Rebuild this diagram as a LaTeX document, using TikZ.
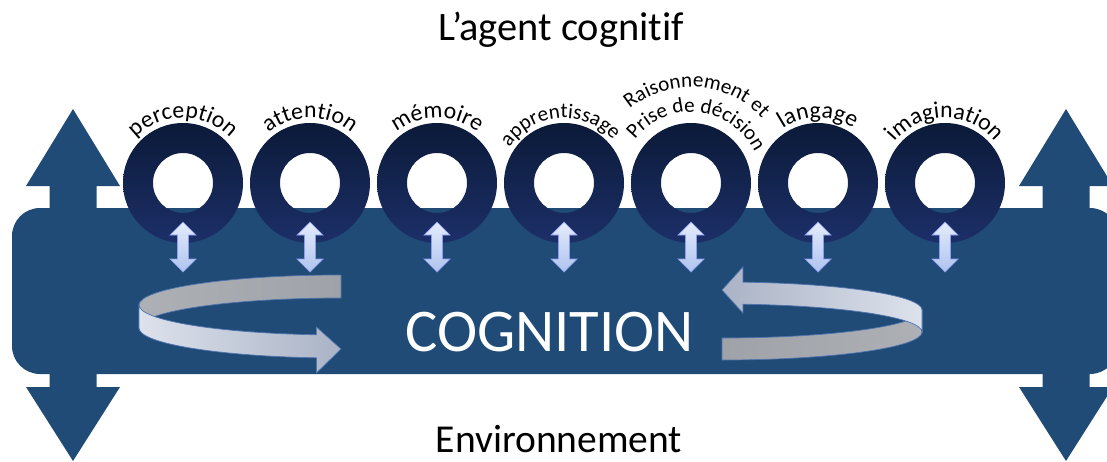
\documentclass[tikz,border=0pt]{standalone}
\usepackage{fontspec}
\setmainfont{Carlito}[Ligatures=NoCommon]
\usetikzlibrary{decorations.text}
\definecolor{bandblue}{HTML}{1F4B76}
\definecolor{ringtop}{HTML}{0B1A38}
\definecolor{ringbot}{HTML}{1C2F68}
\definecolor{arrlight}{HTML}{E4ECFC}
\definecolor{arrdark}{HTML}{AFC3EE}
\definecolor{ribbonlight}{HTML}{DDE2EC}
\definecolor{ribbonmid}{HTML}{AAB3C6}
\definecolor{ribbongray}{HTML}{9FA2A8}
\definecolor{ribbonedge}{HTML}{4F74B0}
\newcommand\lblfont{\fontsize{13.5}{15}\selectfont}
\newcommand\lblfontsm{\fontsize{12}{14}\selectfont}

\tikzset{
  ringlabel/.style={decorate, decoration={text along path, text align=center, text={|\lblfont|#1}}},
  ringlabelsm/.style={decorate, decoration={text along path, text align=center, text={|\lblfontsm|#1}}},
  smallarrow/.style={top color=arrlight, bottom color=arrdark, draw=arrdark!80!blue, line width=0.4pt},
  ribbon/.style={draw=ribbonedge, line width=0.4pt}
}

\begin{document}
\begin{tikzpicture}[x=0.02cm, y=0.02cm]
    \useasboundingbox (0,0) rectangle (1107,461);
    \clip (0,0) rectangle (1107,461);

    \fill[bandblue, rounded corners=0.56cm] (12,87) rectangle (1118,253);

    \fill[bandblue] (73,352) -- (120,275) -- (96.5,275) -- (96.5,74) -- (120,74) -- (73,0)
        -- (26,74) -- (49.5,74) -- (49.5,275) -- (26,275) -- cycle;
    \fill[bandblue] (1066,352) -- (1113,275) -- (1089.5,275) -- (1089.5,74) -- (1113,74) -- (1066,0)
        -- (1019,74) -- (1042.5,74) -- (1042.5,275) -- (1019,275) -- cycle;

    \foreach \i in {1,...,7} {
        \coordinate (ring\i) at ({56+127*\i},278);
        \shade[top color=ringtop, bottom color=ringbot, even odd rule]
            (ring\i) circle[radius=60] (ring\i) circle[radius=30];
        \shade[smallarrow, shift={(ring\i)}] (0,-39) -- (13,-52) -- (5.5,-52) -- (5.5,-76) -- (13,-76)
            -- (0,-89) -- (-13,-76) -- (-5.5,-76) -- (-5.5,-52) -- (-13,-52) -- cycle;
    }

    \foreach \i/\lab in {1/perception, 2/attention, 3/mémoire, 6/langage, 7/imagination}
        \path[ringlabel=\lab] (ring\i) ++(170:65) arc[start angle=170, end angle=10, radius=65];
    \path[ringlabelsm=apprentissage] (ring4) ++(174:65) arc[start angle=174, end angle=14, radius=65];
    \path[ringlabelsm={Raisonnement et}] (ring5) ++(166:96) arc[start angle=166, end angle=6, radius=96];
    \path[ringlabelsm={Prise de décision}] (ring5) ++(174:71) arc[start angle=174, end angle=-6, radius=71];

    % left loop
    \shade[ribbon, left color=ribbongray!85!white, right color=ribbongray]
        (341,186) arc[start angle=90, end angle=180, x radius=202, y radius=30]
        -- (139,133) arc[start angle=180, end angle=90, x radius=202, y radius=30] -- cycle;
    \shade[ribbon, left color=ribbonlight, right color=ribbonmid]
        (139,156) arc[start angle=180, end angle=263, x radius=202, y radius=30]
        -- (316.4,134) -- (341,112) -- (316.4,88) -- (316.4,103.2)
        arc[start angle=263, end angle=180, x radius=202, y radius=30] -- cycle;

    % right loop
    \shade[ribbon, left color=ribbongray, right color=ribbongray!85!white]
        (722,123) arc[start angle=-90, end angle=0, x radius=200, y radius=28]
        -- (922,129) arc[start angle=0, end angle=-90, x radius=200, y radius=28] -- cycle;
    \shade[ribbon, left color=ribbonmid, right color=ribbonlight]
        (922,151) arc[start angle=0, end angle=84, x radius=200, y radius=28]
        -- (742.9,194) -- (722,171) -- (742.9,148) -- (742.9,156.8)
        arc[start angle=84, end angle=0, x radius=200, y radius=28] -- cycle;

    \node[text=white, inner sep=0, font=\fontsize{34.5}{40}\selectfont] (cog) at (549.5,129) {COGNITION};
    \node[anchor=base, inner sep=0, font=\fontsize{23}{27}\selectfont] (title) at (561,421) {L’agent cognitif};
    \node[anchor=base, inner sep=0, font=\fontsize{22.5}{27}\selectfont] (env) at (559,9) {Environnement};
\end{tikzpicture}
\end{document}
